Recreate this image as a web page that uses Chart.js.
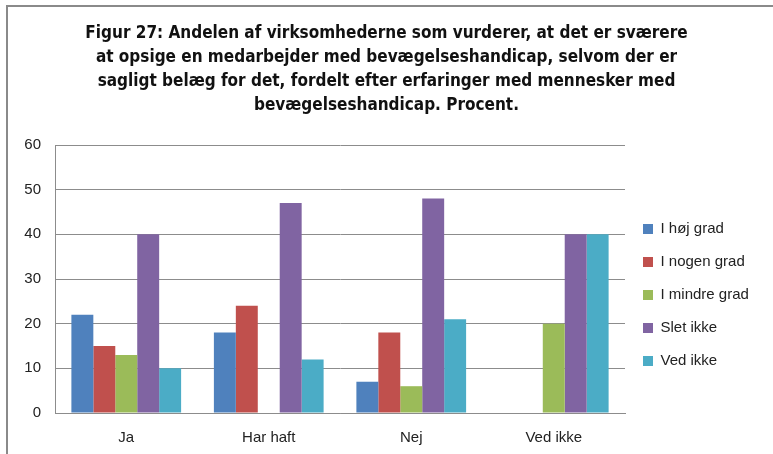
<!DOCTYPE html>
<html>
<head>
<meta charset="utf-8">
<script src="https://cdn.jsdelivr.net/npm/chart.js@4"></script>
<style>
  html, body { margin: 0; padding: 0; background: #fff; }
  #wrap { position: relative; width: 773px; height: 454px; overflow: hidden; }
  #frame { position: absolute; left: 6px; top: 5px; width: 800px; height: 500px;
           border-left: 2px solid #8a8a8a; border-top: 2px solid #8a8a8a; }
  canvas { position: absolute; left: 0; top: 0; }
</style>
</head>
<body>
<div id="wrap">
  <div id="frame"></div>
  <canvas id="chart" width="773" height="454"></canvas>
</div>
<script>
// categories and series
const categories = ['Ja', 'Har haft', 'Nej', 'Ved ikke'];
const iHojGrad = [22, 18, 7, null];
const iNogenGrad = [15, 24, 18, null];
const iMindreGrad = [13, null, 6, 20];
const sletIkke = [40, 47, 48, 40];
const vedIkke = [10, 12, 21, 40];
const yTicks = [0, 10, 20, 30, 40, 50, 60];

const titleLines = [
    'Figur 27: Andelen af virksomhederne som vurderer, at det er sværere',
    'at opsige en medarbejder med bevægelseshandicap, selvom der er',
    'sagligt belæg for det, fordelt efter erfaringer med mennesker med',
    'bevægelseshandicap. Procent.'
];

const gridColor = '#8c8c8c';

// push legend down a bit so it sits like the original
const legendShift = {
    id: 'legendShift',
    afterLayout(chart) {
        chart.legend.top += 16;
        chart.legend.bottom += 16;
    }
};

const ctx = document.getElementById('chart');
new Chart(ctx, {
    type: 'bar',
    data: {
        labels: categories,
        datasets: [
            { label: 'I høj grad', data: iHojGrad, backgroundColor: '#4F81BD' },
            { label: 'I nogen grad', data: iNogenGrad, backgroundColor: '#C0504D' },
            { label: 'I mindre grad', data: iMindreGrad, backgroundColor: '#9BBB59' },
            { label: 'Slet ikke', data: sletIkke, backgroundColor: '#8064A2' },
            { label: 'Ved ikke', data: vedIkke, backgroundColor: '#4BACC6' }
        ]
    },
    options: {
        responsive: false,
        animation: false,
        categoryPercentage: 0.77,
        barPercentage: 1,
        layout: { padding: 0 },
        plugins: {
            title: {
                display: true,
                text: titleLines,
                color: '#111',
                font: { family: '"DejaVu Sans Condensed", "DejaVu Sans", sans-serif', size: 17, weight: '600', lineHeight: '24px' },
                padding: { top: 22, bottom: 27 }
            },
            legend: {
                position: 'right',
                fullSize: false,
                labels: {
                    boxWidth: 10,
                    boxHeight: 10,
                    padding: 18,
                    color: '#222',
                    font: { family: '"Liberation Sans", sans-serif', size: 15 }
                }
            },
            tooltip: { enabled: false }
        },
        scales: {
            x: {
                grid: { display: false, drawTicks: false },
                border: { display: true, color: gridColor },
                ticks: { color: '#222', padding: 16, font: { family: '"Liberation Sans", sans-serif', size: 15 } },
                afterFit(scale) { scale.height = 41; }
            },
            y: {
                min: 0,
                max: 60,
                afterBuildTicks(scale) { scale.ticks = yTicks.map(v => ({ value: v })); },
                grid: { color: gridColor, drawTicks: false },
                border: { display: true, color: gridColor },
                ticks: { color: '#222', padding: 14, font: { family: '"Liberation Sans", sans-serif', size: 15 } },
                afterFit(scale) { scale.width = 55; }
            }
        }
    },
    plugins: [legendShift, {
        id: 'legendWidth',
        beforeInit(chart) {
            const fit = chart.legend.fit;
            chart.legend.fit = function () {
                fit.call(this);
                this.width = 148;
            };
        }
    }]
});
</script>
</body>
</html>
